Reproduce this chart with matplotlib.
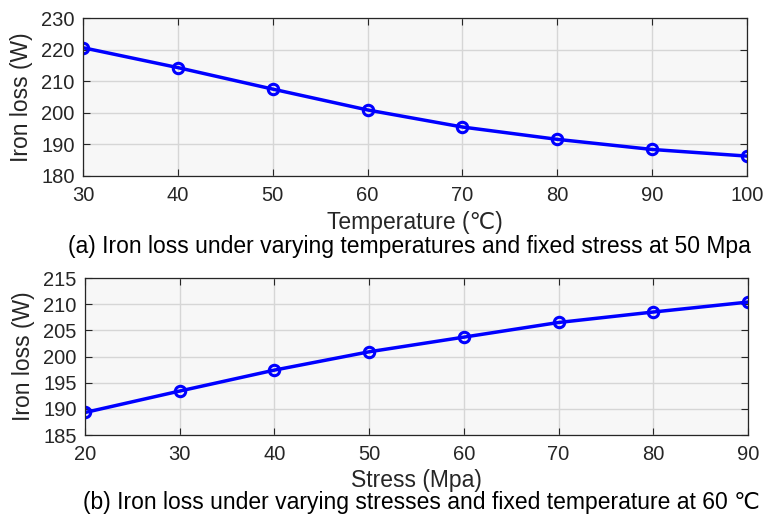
import matplotlib.pyplot as plt

plt.rcParams['font.family'] = ['Liberation Sans', 'DejaVu Sans']

# Iron loss vs temperature (stress fixed at 50 Mpa)
temperature = [30, 40, 50, 60, 70, 80, 90, 100]
loss_temp = [220.6, 214.3, 207.5, 200.9, 195.5, 191.6, 188.4, 186.3]

# Iron loss vs stress (temperature fixed at 60 C)
stress = [20, 30, 40, 50, 60, 70, 80, 90]
loss_stress = [189.3, 193.4, 197.4, 200.9, 203.7, 206.5, 208.5, 210.4]

fig = plt.figure(figsize=(7.65, 5.16), dpi=100)
ax1 = fig.add_axes([83 / 765, 1 - 176 / 516, 664 / 765, 158 / 516])
ax2 = fig.add_axes([85 / 765, 1 - 435 / 516, 663 / 765, 157 / 516])

def style(ax):
    ax.set_facecolor('#f7f7f7')
    ax.grid(True, color='#d6d6d6', linewidth=1.0)
    ax.set_axisbelow(True)
    ax.tick_params(direction='in', top=True, right=True, labelsize=14.5,
                   length=5, width=0.8, colors='#262626')
    ax.tick_params(axis='x', pad=7)
    ax.tick_params(axis='y', pad=6)
    for s in ax.spines.values():
        s.set_color('#262626')
        s.set_linewidth(0.9)

ax1.plot(temperature, loss_temp, color='#0000ff', linewidth=2.5,
         marker='o', markersize=7.5, markerfacecolor='none', markeredgewidth=2.2)
ax1.set_xlim(30, 100)
ax1.set_ylim(180, 230)
ax1.set_xticks(range(30, 101, 10))
ax1.set_yticks(range(180, 231, 10))
style(ax1)
ax1.set_xlabel('Temperature (\u2103)', fontsize=16.5, color='#262626')
ax1.set_ylabel('Iron loss (W)', fontsize=16.5, color='#262626')
ax1.xaxis.label.set_va('center')
ax1.xaxis.set_label_coords(0.5, (176 - 223) / 158)
ax1.yaxis.label.set_va('center')
ax1.yaxis.set_label_coords((22 - 83) / 664, 0.5)

ax2.plot(stress, loss_stress, color='#0000ff', linewidth=2.5,
         marker='o', markersize=7.5, markerfacecolor='none', markeredgewidth=2.2)
ax2.set_xlim(20, 90)
ax2.set_ylim(185, 215)
ax2.set_xticks(range(20, 91, 10))
ax2.set_yticks(range(185, 216, 5))
style(ax2)
ax2.set_xlabel('Stress (Mpa)', fontsize=16.5, color='#262626')
ax2.set_ylabel('Iron loss (W)', fontsize=16.5, color='#262626')
ax2.xaxis.label.set_va('center')
ax2.xaxis.set_label_coords(0.5, (435 - 481) / 157)
ax2.yaxis.label.set_va('center')
ax2.yaxis.set_label_coords((24 - 85) / 663, 0.5)

fig.text(409 / 765, 1 - 246 / 516,
         '(a) Iron loss under varying temperatures and fixed stress at 50 Mpa',
         ha='center', va='center', fontsize=16.5, color='black')
fig.text(421 / 765, 1 - 502 / 516,
         '(b) Iron loss under varying stresses and fixed temperature at 60 \u2103',
         ha='center', va='center', fontsize=16.5, color='black')

fig.savefig('out.png', dpi=100)
